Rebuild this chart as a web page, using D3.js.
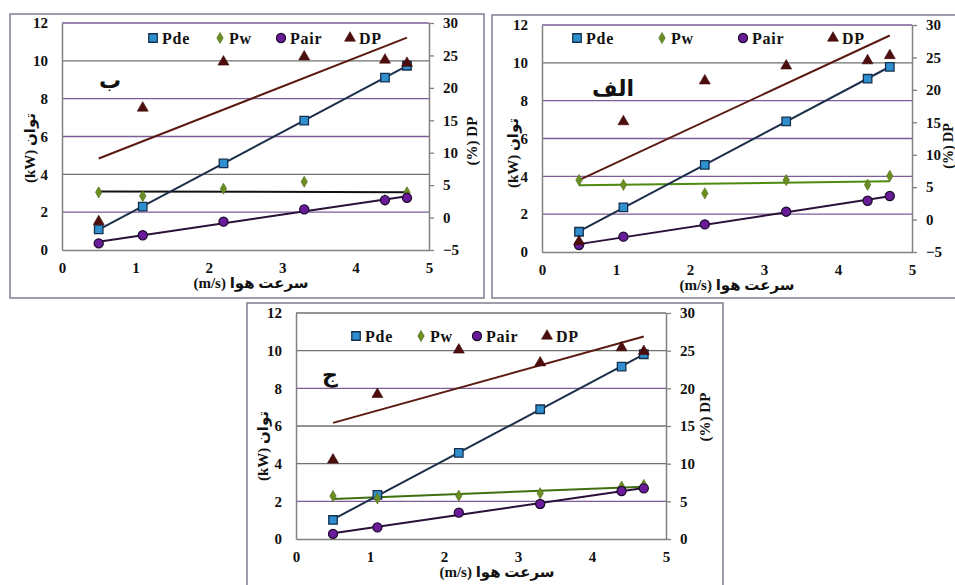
<!DOCTYPE html>
<html><head><meta charset="utf-8">
<script src="https://cdn.jsdelivr.net/npm/d3@7"></script>
<style>
body{margin:0;background:#fff} svg{display:block}
svg text{font-family:'Liberation Serif','DejaVu Serif',serif;font-weight:bold;fill:#111}
svg text.ar{font-family:'Liberation Serif','DejaVu Sans',sans-serif}
</style>
</head><body>
<svg id="c" width="955" height="585"></svg>
<script>
// ---------- data ----------
const speed = [0.5, 1.1, 2.2, 3.3, 4.4, 4.7];
const xTicks = [0, 1, 2, 3, 4, 5];
const powerTicks = [0, 2, 4, 6, 8, 10, 12];
const dpTicksAB = [-5, 0, 5, 10, 15, 20, 25, 30];
const dpTicksC = [0, 5, 10, 15, 20, 25, 30];
const seriesNames = ["Pde", "Pw", "Pair", "DP"];
const panelLabels = ["ب", "الف", "ج"];
const xTitle = "(m/s) سرعت هوا";
const yTitle = "(kW) توان";
const y2Title = "(%) DP";

// panel ب
const pdeB  = [1.09, 2.29, 4.58, 6.84, 9.11, 9.74];
const pwB   = [3.05, 2.85, 3.24, 3.61, 2.64, 3.05];
const pairB = [0.35, 0.78, 1.50, 2.15, 2.64, 2.76];
const dpB   = [-0.6, 16.9, 24.0, 24.8, 24.3, 23.8];
// panel الف
const pdeA  = [1.07, 2.36, 4.61, 6.91, 9.16, 9.79];
const pwA   = [3.80, 3.55, 3.10, 3.80, 3.55, 4.02];
const pairA = [0.37, 0.81, 1.46, 2.13, 2.71, 2.96];
const dpA   = [-3.4, 15.1, 21.4, 23.7, 24.5, 25.3];
// panel ج
const pdeC  = [1.01, 2.34, 4.57, 6.89, 9.15, 9.81];
const pwC   = [2.28, 2.16, 2.30, 2.43, 2.78, 2.87];
const pairC = [0.27, 0.62, 1.40, 1.86, 2.55, 2.69];
const dpC   = [10.5, 19.2, 25.1, 23.4, 25.4, 24.9];

// ---------- layout / style ----------
const P = '#7b5c99', G = '#707070';
const panels = [
  {label: panelLabels[0], pde: pdeB, pw: pwB, pair: pairB, dp: dpB, dpTicks: dpTicksAB,
   frame: [10, 14, 484, 298], plot: [62, 23, 429, 250], legendX: [153, 220, 281, 350], legendY: 38,
   labelPos: [110, 80], xTitleX: 251, yTitleX: 30, yTitleY: 148, y2TitleX: 472, y2TitleY: 141, y2Size: 15,
   pwLine: '#111', grid: {2: P, 4: G, 6: P, 8: P, 10: G, 12: P}},
  {label: panelLabels[1], pde: pdeA, pw: pwA, pair: pairA, dp: dpA, dpTicks: dpTicksAB,
   frame: [492, 15, 965, 298], plot: [542, 25, 912, 252], legendX: [577, 662, 743, 833], legendY: 38,
   labelPos: [613, 88], xTitleX: 737, yTitleX: 513, yTitleY: 153, y2TitleX: 948, y2TitleY: 146, y2Size: 14,
   pwLine: '#4f8a10', grid: {2: P, 4: P, 6: P, 8: P, 10: G, 12: P}},
  {label: panelLabels[2], pde: pdeC, pw: pwC, pair: pairC, dp: dpC, dpTicks: dpTicksC,
   frame: [247, 303, 723, 592], plot: [296, 313, 666, 539], legendX: [356, 421, 477, 547], legendY: 336,
   labelPos: [330, 374], xTitleX: 497, yTitleX: 263, yTitleY: 446, y2TitleX: 705, y2TitleY: 417, y2Size: 15,
   pwLine: '#3f6f10', grid: {2: P, 4: G, 6: G, 8: P, 10: G, 12: G}}
];

const svg = d3.select('#c');

function fit(xs, ys) {
  const mx = d3.mean(xs), my = d3.mean(ys);
  let sxy = 0, sxx = 0;
  xs.forEach((v, i) => { sxy += (v - mx) * (ys[i] - my); sxx += (v - mx) * (v - mx); });
  const b = sxy / sxx;
  return v => my + b * (v - mx);
}

const sym = {
  Pde: d3.symbol().type(d3.symbolSquare).size(72),
  Pw: d3.symbol().type(d3.symbolDiamond).size(36),
  Pair: d3.symbol().type(d3.symbolCircle).size(66),
  DP: d3.symbol().type(d3.symbolTriangle).size(52)
};
const symStyle = {
  Pde: {fill: '#2f8fcf', stroke: '#14304e', sw: 1.3},
  Pw: {fill: '#6b8e23', stroke: '#4d6a18', sw: 0.6},
  Pair: {fill: '#6a1b9a', stroke: '#1c0a2c', sw: 1.2},
  DP: {fill: '#4e0d0d', stroke: '#3a0808', sw: 0.6}
};

panels.forEach(p => {
  const g = svg.append('g');
  g.append('rect')
    .attr('x', p.frame[0]).attr('y', p.frame[1])
    .attr('width', p.frame[2] - p.frame[0]).attr('height', p.frame[3] - p.frame[1])
    .attr('fill', '#fff').attr('stroke', '#8a8496').attr('stroke-width', 1.6);

  const x = d3.scaleLinear().domain([0, 5]).range([p.plot[0], p.plot[2]]);
  const y = d3.scaleLinear().domain([0, 12]).range([p.plot[3], p.plot[1]]);
  const y2 = d3.scaleLinear().domain(d3.extent(p.dpTicks)).range([p.plot[3], p.plot[1]]);

  // gridlines
  g.selectAll('line.grid').data(powerTicks.slice(1)).join('line')
    .attr('class', 'grid')
    .attr('x1', p.plot[0]).attr('x2', p.plot[2])
    .attr('y1', d => y(d)).attr('y2', d => y(d))
    .attr('stroke', d => p.grid[d]).attr('stroke-width', 1.4);

  // axes
  const styleAxis = (sel) => {
    sel.attr('font-family', null).attr('font-size', null);
    sel.select('.domain').attr('stroke', '#808080').attr('stroke-width', 1.5).attr('fill', 'none');
    sel.selectAll('.tick line').attr('stroke', '#808080').attr('stroke-width', 1.3);
    sel.selectAll('text').style('font-size', '15px').attr('fill', '#111');
  };
  g.append('g').attr('transform', `translate(${p.plot[0]},0)`)
    .call(d3.axisLeft(y).tickValues(powerTicks).tickSize(0).tickPadding(14).tickFormat(d3.format('d')))
    .call(styleAxis);
  g.append('g').attr('transform', `translate(${p.plot[2]},0)`)
    .call(d3.axisRight(y2).tickValues(p.dpTicks).tickSize(5).tickSizeOuter(0).tickPadding(9).tickFormat(d3.format('d')))
    .call(styleAxis);
  g.append('g').attr('transform', `translate(0,${p.plot[3]})`)
    .call(d3.axisBottom(x).tickValues(xTicks).tickSize(0).tickPadding(12).tickFormat(d3.format('d')))
    .call(styleAxis);

  // trend lines
  const xr = d3.extent(speed);
  const trend = (vals, scale, color) => {
    const f = fit(speed, vals);
    g.append('line')
      .attr('x1', x(xr[0])).attr('y1', scale(f(xr[0])))
      .attr('x2', x(xr[1])).attr('y2', scale(f(xr[1])))
      .attr('stroke', color).attr('stroke-width', 2);
  };
  trend(p.dp, y2, '#5a1a12');
  trend(p.pw, y, p.pwLine);
  trend(p.pde, y, '#1c2e4a');
  trend(p.pair, y, '#2a1038');

  // markers
  const marks = (vals, scale, name) => {
    const s = symStyle[name];
    g.selectAll(null).data(vals).join('path')
      .attr('d', sym[name])
      .attr('transform', (d, i) => `translate(${x(speed[i])},${scale(d)})`)
      .attr('fill', s.fill).attr('stroke', s.stroke).attr('stroke-width', s.sw);
  };
  marks(p.pde, y, 'Pde');
  marks(p.pw, y, 'Pw');
  marks(p.pair, y, 'Pair');
  marks(p.dp, y2, 'DP');

  // legend
  seriesNames.forEach((n, i) => {
    const s = symStyle[n];
    g.append('path').attr('d', sym[n])
      .attr('transform', `translate(${p.legendX[i]},${p.legendY})`)
      .attr('fill', s.fill).attr('stroke', s.stroke).attr('stroke-width', s.sw);
    g.append('text').attr('x', p.legendX[i] + 9).attr('y', p.legendY)
      .attr('dominant-baseline', 'central')
      .style('font-size', '16px').style('letter-spacing', '0.8px').text(n);
  });

  // panel letter
  g.append('text').attr('class', 'ar').attr('x', p.labelPos[0]).attr('y', p.labelPos[1])
    .attr('text-anchor', 'middle').attr('dominant-baseline', 'central')
    .style('font-size', '22px').text(p.label);

  // axis titles
  g.append('text').attr('class', 'ar').attr('x', p.xTitleX).attr('y', p.plot[3] + 33)
    .attr('text-anchor', 'middle').attr('dominant-baseline', 'central')
    .style('font-size', '15px').text(xTitle);
  g.append('text').attr('class', 'ar')
    .attr('transform', `translate(${p.yTitleX},${p.yTitleY}) rotate(-90)`)
    .attr('text-anchor', 'middle').attr('dominant-baseline', 'central')
    .style('font-size', '15px').text(yTitle);
  g.append('text')
    .attr('transform', `translate(${p.y2TitleX},${p.y2TitleY}) rotate(-90)`)
    .attr('text-anchor', 'middle').attr('dominant-baseline', 'central')
    .style('font-size', p.y2Size + 'px').text(y2Title);
});
</script>
</body></html>
